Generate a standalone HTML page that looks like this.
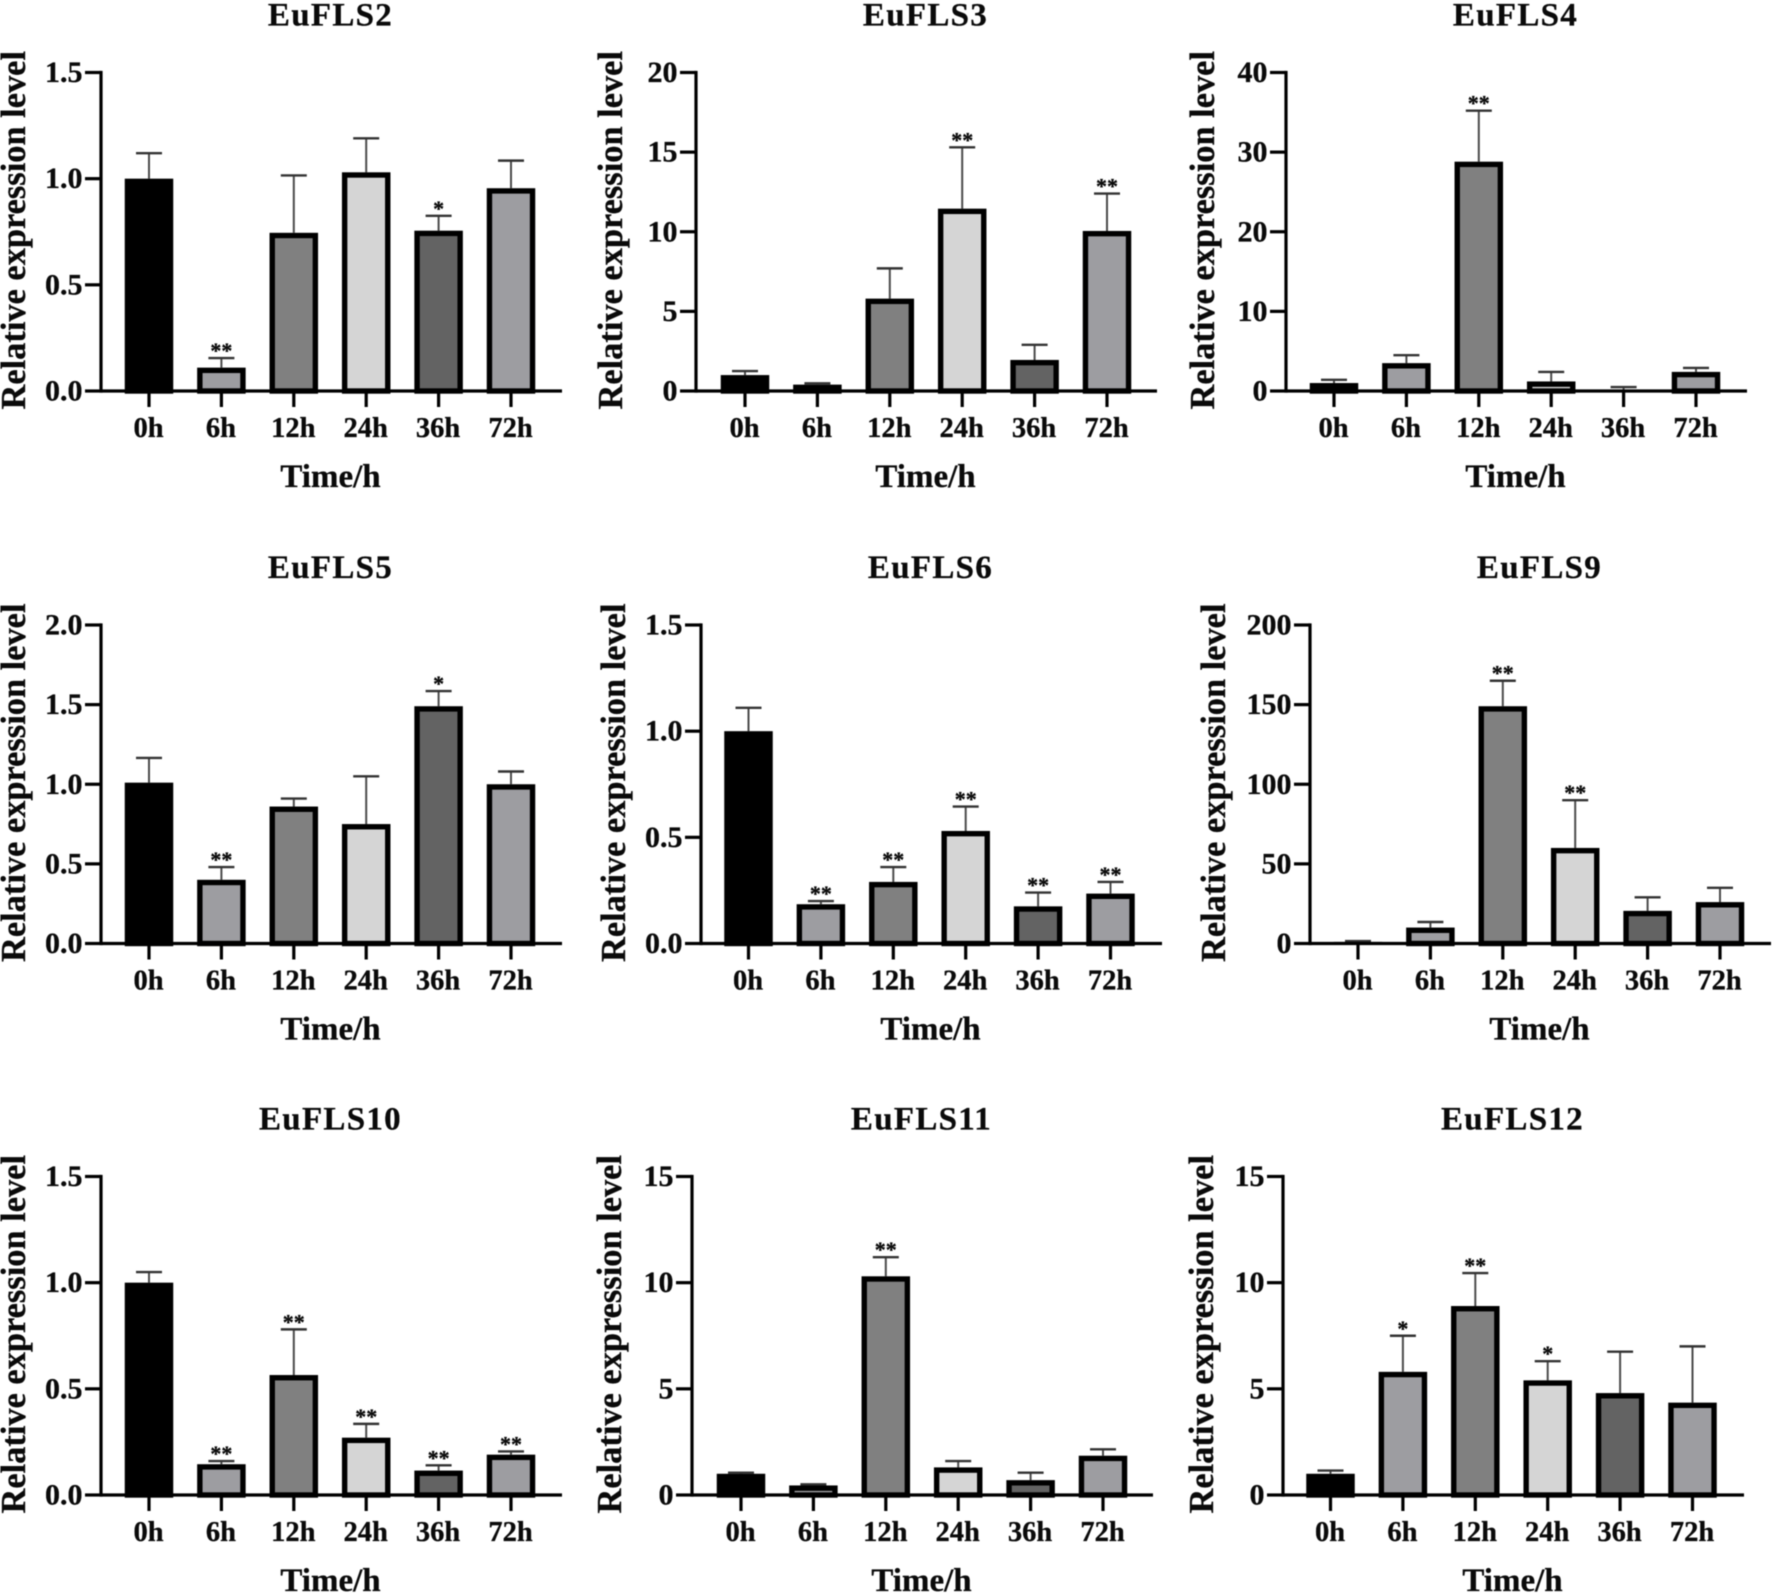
<!DOCTYPE html>
<html lang="en">
<head>
<meta charset="utf-8">
<title>EuFLS relative expression levels</title>
<style>
html,body{margin:0;padding:0;background:#fff;}
svg{display:block;position:absolute;left:0;top:0;filter:blur(0.45px);}
text{font-family:"Liberation Serif",serif;font-weight:bold;fill:#0a0a0a;stroke:#0a0a0a;stroke-width:0.3px;}
</style>
</head>
<body>
<svg id="figure" xmlns="http://www.w3.org/2000/svg" width="1772" height="1593" viewBox="0 0 1772 1593"></svg>
<script>
const categories = ['0h','6h','12h','24h','36h','72h'];
const barFills = ['#000000','#9d9da1','#808080','#d5d5d5','#636363','#9d9da1'];

const titles = ['EuFLS2','EuFLS3','EuFLS4','EuFLS5','EuFLS6','EuFLS9','EuFLS10','EuFLS11','EuFLS12'];

const euFLS2Means = [1.0,0.11,0.745,1.03,0.755,0.955];
const euFLS2Tips = [1.12,0.155,1.015,1.19,0.825,1.085];
const euFLS2Marks = ['','**','','','*',''];
const euFLS2Ticks = ['0.0','0.5','1.0','1.5'];

const euFLS3Means = [1.0,0.4,5.8,11.45,1.95,10.05];
const euFLS3Tips = [1.25,0.48,7.7,15.3,2.9,12.4];
const euFLS3Marks = ['','','','**','','**'];
const euFLS3Ticks = ['0','5','10','15','20'];

const euFLS4Means = [1.0,3.5,28.8,1.2,0.15,2.4];
const euFLS4Tips = [1.4,4.5,35.2,2.4,0.5,2.9];
const euFLS4Marks = ['','','**','','',''];
const euFLS4Ticks = ['0','10','20','30','40'];

const euFLS5Means = [1.01,0.4,0.86,0.75,1.49,1.0];
const euFLS5Tips = [1.165,0.48,0.91,1.05,1.585,1.08];
const euFLS5Marks = ['','**','','','*',''];
const euFLS5Ticks = ['0.0','0.5','1.0','1.5','2.0'];

const euFLS6Means = [1.0,0.185,0.29,0.53,0.175,0.235];
const euFLS6Tips = [1.11,0.2,0.36,0.645,0.24,0.29];
const euFLS6Marks = ['','**','**','**','**','**'];
const euFLS6Ticks = ['0.0','0.5','1.0','1.5'];

const euFLS9Means = [1,10,149,60,20.5,26];
const euFLS9Tips = [1.5,13.5,165,90,29,35];
const euFLS9Marks = ['','','**','**','',''];
const euFLS9Ticks = ['0','50','100','150','200'];

const euFLS10Means = [1.0,0.145,0.565,0.27,0.115,0.19];
const euFLS10Tips = [1.05,0.16,0.78,0.335,0.14,0.205];
const euFLS10Marks = ['','**','**','**','**','**'];
const euFLS10Ticks = ['0.0','0.5','1.0','1.5'];

const euFLS11Means = [1.0,0.45,10.3,1.3,0.7,1.85];
const euFLS11Tips = [1.05,0.5,11.2,1.6,1.05,2.15];
const euFLS11Marks = ['','','**','','',''];
const euFLS11Ticks = ['0','5','10','15'];

const euFLS12Means = [1.0,5.8,8.9,5.4,4.8,4.35];
const euFLS12Tips = [1.15,7.5,10.45,6.3,6.75,7.0];
const euFLS12Marks = ['','*','**','*','',''];
const euFLS12Ticks = ['0','5','10','15'];

const NS = 'http://www.w3.org/2000/svg';
const figure = document.getElementById('figure');
const PLOT_H = 318.5, AXIS_W = 461, STEP = 72.4, FIRST = 47.5, BAR_W = 48.5, BORDER = 5.4;

function mk(tag, parent, attrs, txt){
  const el = document.createElementNS(NS, tag);
  for (const k in attrs) el.setAttribute(k, attrs[k]);
  if (txt !== undefined) el.textContent = txt;
  parent.appendChild(el);
  return el;
}

function drawPanel(title, means, tips, marks, ticks, ax, base, barShift, labelGap){
  const g = mk('g', figure, {});
  
  
  const yMax = parseFloat(ticks[ticks.length-1]);
  const yOf = v => base - (v / yMax) * PLOT_H;
  const xOf = i => ax + FIRST + barShift + i * STEP;
  const cx = ax + 229.5;

  const t = mk('text', g, {x:cx, y:base-365.5, 'text-anchor':'middle', 'font-size':33, 'letter-spacing':1.3}, title);
  
  

  const yl = mk('text', g, {transform:'translate(' + (ax-labelGap) + ' ' + (base-PLOT_H/2-1.5) + ') rotate(-90)', 'text-anchor':'middle', 'font-size':34.4}, 'Relative expression level');
  
  

  const xl = mk('text', g, {x:cx, y:base+96, 'text-anchor':'middle', 'font-size':33}, 'Time/h');
  
  

  means.forEach((m, i) => {
    const x = xOf(i), top = yOf(m), tip = yOf(tips[i]);
    const stem = mk('line', g, {x1:x, x2:x, y1:tip, y2:top, stroke:'#4a4a4a', 'stroke-width':2});
    
    
    const cap = mk('line', g, {x1:x-13, x2:x+13, y1:tip, y2:tip, stroke:'#333', 'stroke-width':2.4});
    
    
    const outer = base - top;
    const bar = outer > BORDER
      ? mk('rect', g, {x:x-BAR_W/2+BORDER/2, y:top+BORDER/2, width:BAR_W-BORDER, height:outer-BORDER/2, fill:barFills[i], stroke:'#000', 'stroke-width':BORDER})
      : mk('rect', g, {x:x-BAR_W/2, y:top, width:BAR_W, height:outer, fill:'#000'});
    
    
    if (marks[i]) {
      const s = mk('text', g, {x:x, y:tip, 'text-anchor':'middle', 'font-size':22}, marks[i]);
      
      
    }
    const tk = mk('line', g, {x1:x, x2:x, y1:base, y2:base+16, stroke:'#000', 'stroke-width':3.2});
    
    
    const lb = mk('text', g, {x:x-0.5, y:base+46, 'text-anchor':'middle', 'font-size':28.5}, categories[i]);
    
    
  });

  ticks.forEach(tv => {
    const y = yOf(parseFloat(tv));
    const tk = mk('line', g, {x1:ax-16, x2:ax, y1:y, y2:y, stroke:'#000', 'stroke-width':3.2});
    
    
    const lb = mk('text', g, {x:ax-18.5, y:y+9.5, 'text-anchor':'end', 'font-size':30}, tv);
    
    
  });

  const yAxis = mk('line', g, {x1:ax, x2:ax, y1:base-PLOT_H-1.6, y2:base+1.6, stroke:'#000', 'stroke-width':3.2});
  
  
  const xAxis = mk('line', g, {x1:ax, x2:ax+AXIS_W, y1:base, y2:base, stroke:'#000', 'stroke-width':3.2});
  
  
}

const ROW1 = 391, ROW2 = 943.5, ROW3 = 1495;
drawPanel(titles[0], euFLS2Means, euFLS2Tips, euFLS2Marks, euFLS2Ticks, 101, ROW1, 0.5, 76);
drawPanel(titles[1], euFLS3Means, euFLS3Tips, euFLS3Marks, euFLS3Ticks, 696, ROW1, 1.5, 74);
drawPanel(titles[2], euFLS4Means, euFLS4Tips, euFLS4Marks, euFLS4Ticks, 1286, ROW1, 0.5, 72);
drawPanel(titles[3], euFLS5Means, euFLS5Tips, euFLS5Marks, euFLS5Ticks, 101, ROW2, 0.5, 76);
drawPanel(titles[4], euFLS6Means, euFLS6Tips, euFLS6Marks, euFLS6Ticks, 701, ROW2, 0, 76);
drawPanel(titles[5], euFLS9Means, euFLS9Tips, euFLS9Marks, euFLS9Ticks, 1310, ROW2, 0.5, 85);
drawPanel(titles[6], euFLS10Means, euFLS10Tips, euFLS10Marks, euFLS10Ticks, 101, ROW3, 0.5, 76);
drawPanel(titles[7], euFLS11Means, euFLS11Tips, euFLS11Marks, euFLS11Ticks, 692, ROW3, 1.5, 71);
drawPanel(titles[8], euFLS12Means, euFLS12Tips, euFLS12Marks, euFLS12Ticks, 1283, ROW3, 0, 70);
</script>
</body>
</html>
